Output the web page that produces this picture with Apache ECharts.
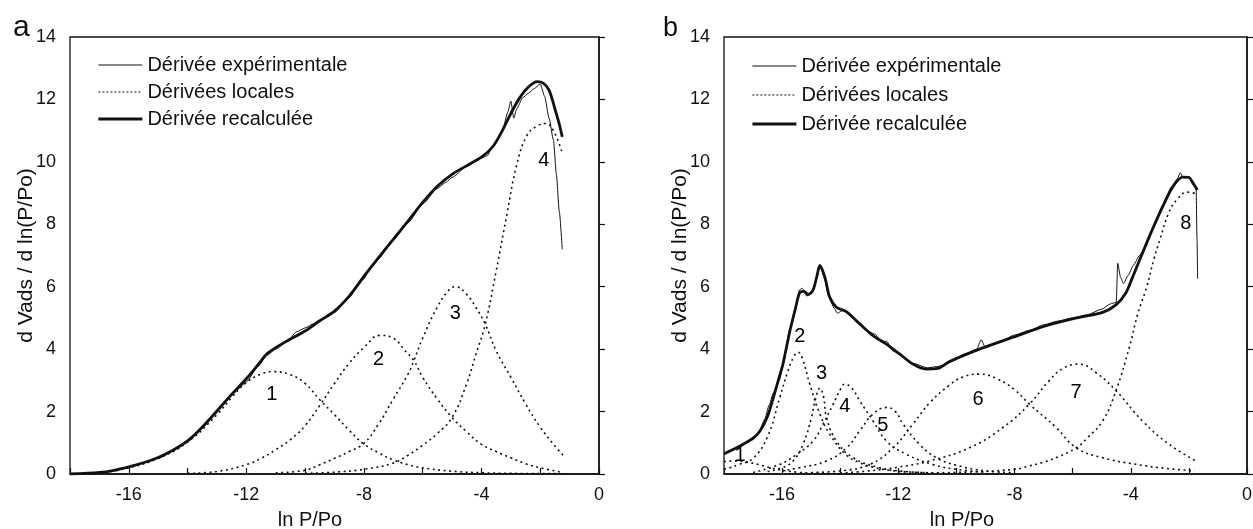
<!DOCTYPE html>
<html>
<head>
<meta charset="utf-8">
<script src="https://cdn.jsdelivr.net/npm/echarts@6/dist/echarts.min.js"></script>
<style>
  html, body { margin: 0; padding: 0; background: #fff; }
  #chart { width: 1253px; height: 529px; }
</style>
</head>
<body>
<div id="chart"></div>
<script>
// ---- Panel a : experimental derivative, local derivatives 1-4, recalculated sum ----
const aExp = [[-18,0],[-17,0.04],[-16,0.22],[-15,0.5],[-14,1.04],[-13.3,1.7],[-13,1.98],[-12.6,2.45],[-12.3,2.72],[-12,2.95],[-11.6,3.45],[-11.3,3.8],[-11,4.0],[-10.6,4.25],[-10.3,4.55],[-10,4.68],[-9.7,4.82],[-9.5,4.9],[-9,5.18],[-8.5,5.65],[-8.2,6.05],[-8,6.25],[-7.8,6.6],[-7.5,6.9],[-7,7.5],[-6.5,8.05],[-6,8.65],[-5.5,9.15],[-5.2,9.35],[-5,9.5],[-4.5,9.85],[-4,10.12],[-3.8,10.2],[-3.6,10.55],[-3.3,10.95],[-3.1,11.6],[-3,11.95],[-2.9,11.4],[-2.8,11.7],[-2.6,12.05],[-2.4,12.2],[-2.2,12.35],[-2,12.5],[-1.85,12.1],[-1.7,11.4],[-1.55,10.7],[-1.45,9.6],[-1.35,8.4],[-1.25,7.2]];
const aFit = [[-18,0],[-17,0.05],[-16.5,0.12],[-16,0.23],[-15.5,0.36],[-15,0.53],[-14.5,0.76],[-14,1.06],[-13.5,1.5],[-13,2.02],[-12.5,2.55],[-12,3.05],[-11.6,3.5],[-11.3,3.85],[-11,4.05],[-10.6,4.27],[-10,4.58],[-9.5,4.91],[-9,5.22],[-8.5,5.7],[-8,6.33],[-7.5,6.93],[-7,7.52],[-6.5,8.1],[-6,8.7],[-5.5,9.22],[-5,9.6],[-4.5,9.88],[-4,10.15],[-3.6,10.5],[-3.3,10.98],[-3,11.55],[-2.7,12.05],[-2.4,12.4],[-2.1,12.57],[-1.9,12.52],[-1.7,12.3],[-1.5,11.7],[-1.35,11.2],[-1.25,10.8]];
const aPeak1 = [[-17,0.02],[-16,0.2],[-15,0.5],[-14,1.02],[-13,1.9],[-12.5,2.45],[-12,2.93],[-11.5,3.2],[-11.1,3.28],[-10.5,3.18],[-10,2.9],[-9.5,2.38],[-9,1.9],[-8.5,1.4],[-8,0.96],[-7.5,0.68],[-7,0.45],[-6.5,0.3],[-6,0.2],[-5,0.09],[-4,0.04],[-3,0.02],[-1.3,0.01]];
const aPeak2 = [[-14,0.02],[-13,0.08],[-12,0.3],[-11.5,0.5],[-11,0.78],[-10.5,1.1],[-10,1.55],[-9.5,2.2],[-9,2.9],[-8.5,3.55],[-8,4.05],[-7.45,4.44],[-7,4.35],[-6.6,3.95],[-6.3,3.63],[-6,3.1],[-5.5,2.4],[-5,1.81],[-4.5,1.35],[-4,0.95],[-3.5,0.72],[-3,0.52],[-2.5,0.33],[-2,0.2],[-1.3,0.06]];
const aPeak3 = [[-11,0.04],[-10,0.12],[-9.5,0.3],[-9,0.5],[-8.5,0.72],[-8,0.98],[-7.5,1.6],[-7,2.4],[-6.5,3.2],[-6.3,3.63],[-6,4.35],[-5.5,5.35],[-5.1,5.9],[-4.89,6.0],[-4.5,5.75],[-4.2,5.35],[-3.87,4.8],[-3.5,3.95],[-3,3.1],[-2.5,2.25],[-2,1.5],[-1.5,0.9],[-1.2,0.58]];
const aPeak4 = [[-10,0.02],[-9,0.06],[-8,0.15],[-7,0.35],[-6.5,0.6],[-6,0.92],[-5.5,1.3],[-5,1.81],[-4.5,2.9],[-4.2,3.8],[-3.87,4.8],[-3.5,6.5],[-3.13,8.34],[-2.8,9.9],[-2.45,10.85],[-2.1,11.15],[-1.82,11.23],[-1.55,11.0],[-1.25,10.27]];
const aLabels = [[-11.13,2.56,'1'],[-7.5,3.68,'2'],[-4.89,5.13,'3'],[-1.88,10.05,'4']];

// ---- Panel b : experimental derivative, local derivatives 1-8, recalculated sum ----
const bExp = [[-18,0.62],[-17.5,0.85],[-17,1.1],[-16.8,1.35],[-16.6,1.75],[-16.45,2.2],[-16.3,2.6],[-16.1,3.0],[-15.95,3.55],[-15.75,4.6],[-15.55,5.3],[-15.4,5.9],[-15.3,5.95],[-15.15,5.7],[-14.95,5.85],[-14.8,6.3],[-14.7,6.7],[-14.55,6.3],[-14.4,5.7],[-14.2,5.3],[-14.1,5.15],[-13.9,5.25],[-13.5,4.95],[-13,4.55],[-12.8,4.48],[-12.6,4.25],[-12.4,4.25],[-12.2,3.95],[-11.9,3.8],[-11.5,3.55],[-11,3.4],[-10.6,3.45],[-10.2,3.6],[-9.7,3.85],[-9.3,4.0],[-9.15,4.3],[-9,4.05],[-8.5,4.25],[-8,4.45],[-7.5,4.6],[-7,4.78],[-6.5,4.9],[-6,5.0],[-5.5,5.1],[-5,5.28],[-4.7,5.45],[-4.5,5.5],[-4.45,6.75],[-4.35,6.3],[-4.25,6.1],[-4.1,6.35],[-3.9,6.7],[-3.7,7.0],[-3.5,7.25],[-3.3,7.75],[-2.9,8.6],[-2.6,9.2],[-2.4,9.45],[-2.3,9.65],[-2.2,9.5],[-2,9.5],[-1.85,9.35],[-1.75,9.15],[-1.72,7.5],[-1.7,6.25]];
const bFit = [[-18,0.65],[-17.45,0.9],[-17,1.15],[-16.76,1.38],[-16.5,1.85],[-16.3,2.45],[-16.1,3.1],[-15.97,3.53],[-15.73,4.59],[-15.56,5.23],[-15.39,5.82],[-15.25,5.85],[-15.11,5.75],[-14.94,5.88],[-14.8,6.35],[-14.7,6.68],[-14.6,6.5],[-14.5,6.2],[-14.36,5.66],[-14.13,5.34],[-13.79,5.2],[-13.33,4.81],[-12.87,4.43],[-12.41,4.16],[-11.95,3.84],[-11.5,3.52],[-11.04,3.36],[-10.64,3.38],[-10.24,3.6],[-9.21,4.0],[-8.06,4.38],[-6.91,4.75],[-5.77,5.02],[-4.97,5.18],[-4.51,5.42],[-4.17,5.8],[-3.94,6.3],[-3.37,7.59],[-2.91,8.55],[-2.56,9.19],[-2.22,9.51],[-2,9.5],[-1.88,9.35],[-1.71,9.1]];
const bPeak1 = [[-18,0.4],[-17.6,0.42],[-17.2,0.38],[-16.8,0.3],[-16.4,0.2],[-16,0.12],[-15.5,0.06],[-15,0.03],[-14,0.01]];
const bPeak2 = [[-18,0.15],[-17.8,0.2],[-17.5,0.3],[-17,0.5],[-16.5,1.2],[-16.08,2.45],[-15.8,3.3],[-15.6,3.75],[-15.45,3.9],[-15.3,3.7],[-15.05,2.88],[-14.7,1.92],[-14.36,1.27],[-13.78,0.6],[-13.3,0.35],[-12.87,0.22],[-12.3,0.12],[-11.5,0.06],[-10.5,0.03]];
const bPeak3 = [[-16.5,0.08],[-16,0.2],[-15.62,0.42],[-15.28,0.95],[-14.99,1.81],[-14.85,2.4],[-14.7,2.75],[-14.58,2.5],[-14.47,1.81],[-14.13,1.06],[-13.55,0.52],[-12.64,0.2],[-12,0.1],[-11,0.04]];
const bPeak4 = [[-17,0.05],[-16.1,0.3],[-15.5,0.63],[-14.93,1.06],[-14.59,1.6],[-14.24,2.24],[-14,2.7],[-13.84,2.88],[-13.6,2.75],[-13.33,2.34],[-12.87,1.7],[-12.41,1.06],[-11.72,0.63],[-10.8,0.3],[-10,0.15],[-9,0.06]];
const bPeak5 = [[-16,0.1],[-15.4,0.2],[-14.47,0.42],[-13.78,0.84],[-13.33,1.38],[-12.87,1.92],[-12.41,2.13],[-12.1,2.0],[-11.84,1.6],[-11.27,0.95],[-10.69,0.52],[-10,0.28],[-9,0.1],[-8,0.04]];
const bPeak6 = [[-15,0.05],[-14,0.1],[-12.98,0.31],[-12.18,0.84],[-11.5,1.6],[-10.9,2.3],[-10.24,2.85],[-9.8,3.1],[-9.21,3.2],[-8.6,3.05],[-8,2.7],[-7.49,2.24],[-6.57,1.49],[-5.88,0.84],[-4.97,0.52],[-3.82,0.31],[-2.8,0.18],[-1.8,0.1]];
const bPeak7 = [[-14,0.03],[-13,0.1],[-12,0.22],[-10.92,0.42],[-9.55,0.84],[-8.4,1.49],[-7.49,2.24],[-6.8,3.0],[-6.3,3.4],[-5.77,3.52],[-5.2,3.25],[-4.51,2.67],[-3.6,1.7],[-2.68,0.95],[-1.76,0.42]];
const bPeak8 = [[-12,0.02],[-10,0.05],[-8,0.15],[-7.49,0.26],[-7,0.38],[-6.5,0.55],[-5.88,0.84],[-5.5,1.15],[-4.97,1.7],[-4.51,2.67],[-4.05,4.06],[-3.76,5.13],[-3.45,6.0],[-3.2,6.9],[-3,7.5],[-2.7,8.35],[-2.4,8.8],[-2.05,9.03],[-1.76,8.98]];
const bLabels = [[-17.45,0.58,'1'],[-15.39,4.4,'2'],[-14.64,3.22,'3'],[-13.84,2.16,'4'],[-12.53,1.57,'5'],[-9.26,2.4,'6'],[-5.88,2.61,'7'],[-2.11,8.02,'8']];

const NAME_EXP = 'Dérivée expérimentale';
const NAME_LOC = 'Dérivées locales';
const NAME_FIT = 'Dérivée recalculée';

const INK = '#111';
const SANS = "'Liberation Sans', Arial, sans-serif";
const NARROW = "'Liberation Sans Narrow', 'Liberation Sans', sans-serif";

const thin = { color: INK, width: 1 };
const dotted = { color: INK, width: 1.6, type: [2, 3.5] };
const bold = { color: INK, width: 2.8 };

function curve(name, data, idx, style, z, smooth, mono) {
  const s = {
    type: 'line', name, data, xAxisIndex: idx, yAxisIndex: idx,
    symbol: 'none', smooth: smooth,
    lineStyle: style, itemStyle: { color: INK }, z, silent: true
  };
  if (mono) s.smoothMonotone = 'x';
  return s;
}
function numbers(rows, idx) {
  return {
    type: 'scatter', name: 'num' + idx, xAxisIndex: idx, yAxisIndex: idx,
    symbolSize: 0, silent: true, z: 5,
    itemStyle: { opacity: 1, color: INK },
    data: rows.map(([x, y, t]) => ({ value: [x, y], name: t })),
    label: { show: true, position: 'inside', formatter: '{b}', fontSize: 20, fontFamily: NARROW, color: '#000', opacity: 1 }
  };
}
function xAxis(idx, shift) {
  return {
    type: 'value', gridIndex: idx, min: -18, max: 0, interval: 2,
    name: 'ln P/Po', nameLocation: 'middle', nameGap: 36, nameMoveOverlap: false,
    nameTextStyle: { fontSize: 20, fontFamily: SANS, color: INK, padding: [0, shift, 0, 0] },
    axisLine: { lineStyle: { color: INK, width: 1.5 } },
    axisTick: { inside: true, length: 6, lineStyle: { color: INK, width: 1.2 } },
    axisLabel: { margin: 12, fontSize: 18, fontFamily: NARROW, color: INK,
      formatter: v => (v % 4 === 0 ? String(v) : '') },
    splitLine: { show: false }
  };
}
function yAxis(idx) {
  return {
    type: 'value', gridIndex: idx, min: 0, max: 14, interval: 2,
    name: 'd Vads / d ln(P/Po)', nameLocation: 'middle', nameGap: 33, nameMoveOverlap: false,
    nameTextStyle: { fontSize: 21, fontFamily: SANS, color: INK },
    axisLine: { lineStyle: { color: INK, width: 1.5 } },
    axisTick: { inside: true, length: 6, lineStyle: { color: INK, width: 1.2 } },
    axisLabel: { margin: 14, fontSize: 18, fontFamily: NARROW, color: INK },
    splitLine: { show: false }
  };
}
function legend(left, top, gap) {
  return {
    data: [
      { name: NAME_EXP, lineStyle: { width: 1, type: 'solid' } },
      { name: NAME_LOC, lineStyle: { width: 1.2, type: [2, 2] } },
      { name: NAME_FIT, lineStyle: { width: 2.8, type: 'solid' } }
    ],
    orient: 'vertical', left, top,
    itemWidth: 44, itemHeight: 14, itemGap: gap, selectedMode: false,
    itemStyle: { opacity: 0 },
    textStyle: { fontSize: 20, fontFamily: SANS, color: INK }
  };
}

const chart = echarts.init(document.getElementById('chart'), null, { renderer: 'canvas' });
chart.setOption({
  animation: false,
  backgroundColor: '#fff',
  grid: [
    { left: 70, top: 37, width: 529, height: 437, show: true, borderColor: INK, borderWidth: 1.3, outerBoundsMode: 'none' },
    { left: 724, top: 37, width: 523, height: 437, show: true, borderColor: INK, borderWidth: 1.3, outerBoundsMode: 'none' }
  ],
  xAxis: [xAxis(0, 49), xAxis(1, 47)],
  yAxis: [yAxis(0), yAxis(1)],
  legend: [legend(92, 50, 7), legend(746, 51, 9)],
  graphic: [
    { type: 'text', style: { x: 13, y: 28, text: 'a', font: '30px ' + SANS, fill: INK, verticalAlign: 'middle' } },
    { type: 'text', style: { x: 663, y: 29, text: 'b', font: '27px ' + SANS, fill: INK, verticalAlign: 'middle' } }
  ],
  series: [
    curve(NAME_LOC, aPeak1, 0, dotted, 2, 0.45),
    curve(NAME_LOC, aPeak2, 0, dotted, 2, 0.45),
    curve(NAME_LOC, aPeak3, 0, dotted, 2, 0.45),
    curve(NAME_LOC, aPeak4, 0, dotted, 2, 0.45),
    curve(NAME_EXP, aExp, 0, thin, 3, 0.2, true),
    curve(NAME_FIT, aFit, 0, bold, 4, 0.3),
    numbers(aLabels, 0),

    curve(NAME_LOC, bPeak1, 1, dotted, 2, 0.45),
    curve(NAME_LOC, bPeak2, 1, dotted, 2, 0.45),
    curve(NAME_LOC, bPeak3, 1, dotted, 2, 0.45),
    curve(NAME_LOC, bPeak4, 1, dotted, 2, 0.45),
    curve(NAME_LOC, bPeak5, 1, dotted, 2, 0.45),
    curve(NAME_LOC, bPeak6, 1, dotted, 2, 0.45),
    curve(NAME_LOC, bPeak7, 1, dotted, 2, 0.45),
    curve(NAME_LOC, bPeak8, 1, dotted, 2, 0.45),
    curve(NAME_EXP, bExp, 1, thin, 3, 0.2, true),
    curve(NAME_FIT, bFit, 1, bold, 4, 0.3),
    numbers(bLabels, 1)
  ]
});
</script>
</body>
</html>
